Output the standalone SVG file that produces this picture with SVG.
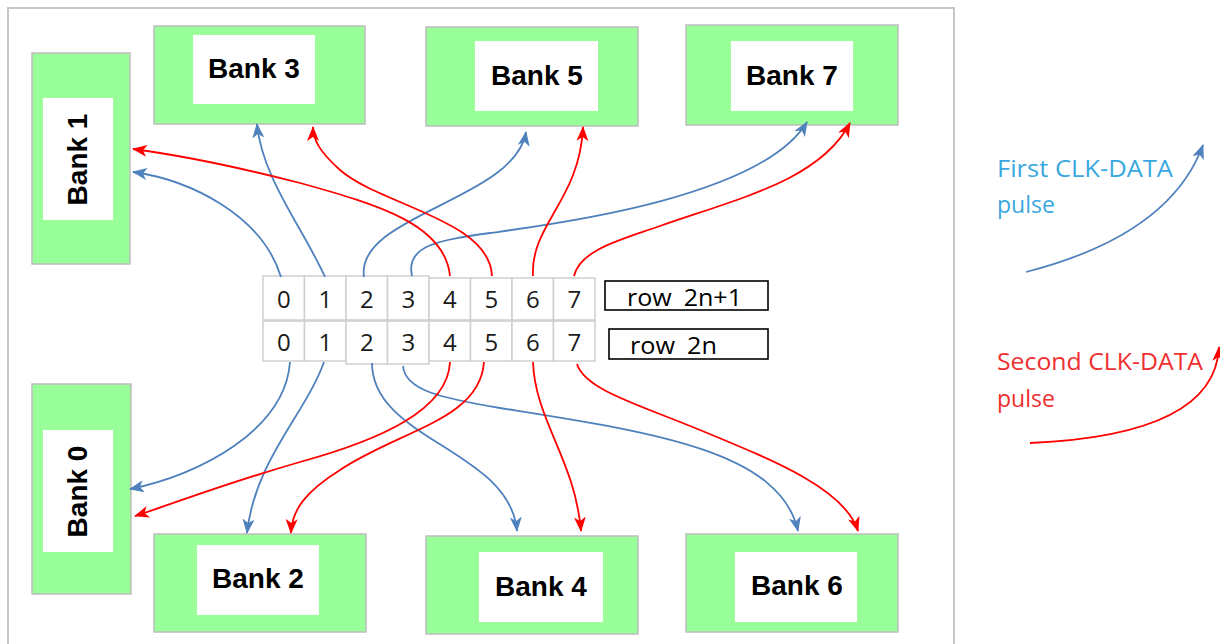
<svg xmlns="http://www.w3.org/2000/svg" width="1220" height="644" viewBox="0 0 1220 644">
<defs>
<style>
.frame{fill:#fff;stroke:#c8c8c8;stroke-width:2}
.bank{fill:#99ff99;stroke:#bdbdbd;stroke-width:1.5}
.inner{fill:#fff;stroke:none}
.blabel{font-family:"Liberation Sans",Arial,sans-serif;font-weight:bold;font-size:28px;fill:#000;text-anchor:middle}
.cell{fill:#fff;stroke:#cfcfcf;stroke-width:1.5}
.digit{font-family:"Open Sans","Noto Sans",sans-serif;font-size:24px;fill:#1a1a1a;text-anchor:middle}
.rowbox{fill:#fff;stroke:#000;stroke-width:1.6}
.rowlabel{font-family:"Open Sans","Noto Sans",sans-serif;font-size:23px;fill:#000}
.blue{fill:none;stroke:#4f81bd;stroke-width:1.8;marker-end:url(#ab)}
.red{fill:none;stroke:#ff0000;stroke-width:1.8;marker-end:url(#ar)}
.legb{font-family:"Open Sans","Noto Sans",sans-serif;font-size:23px;fill:#3aa8e0}
.legr{font-family:"Open Sans","Noto Sans",sans-serif;font-size:23px;fill:#ee3030}
</style>
<marker id="ab" markerUnits="userSpaceOnUse" markerWidth="15" markerHeight="12" viewBox="0 0 15 12" refX="14" refY="6" orient="auto">
<path d="M0,0 L15,6 L0,12 L4,6 z" fill="#4f81bd"/>
</marker>
<marker id="ar" markerUnits="userSpaceOnUse" markerWidth="15" markerHeight="12" viewBox="0 0 15 12" refX="14" refY="6" orient="auto">
<path d="M0,0 L15,6 L0,12 L4,6 z" fill="#ff0000"/>
</marker>
</defs>
<rect width="1220" height="644" fill="#fff"/>
<rect class="frame" x="8" y="8" width="946" height="660"/>

<g id="bank1">
<rect class="bank" x="32" y="53" width="98" height="211"/>
<rect class="inner" x="43" y="98" width="70" height="122"/>
<text class="blabel" transform="translate(87,159.5) rotate(-90)">Bank 1</text>
</g>
<g id="bank3">
<rect class="bank" x="154" y="26" width="211" height="98"/>
<rect class="inner" x="193" y="35" width="122" height="69"/>
<text class="blabel" x="254" y="78">Bank 3</text>
</g>
<g id="bank5">
<rect class="bank" x="426" y="27" width="212" height="99"/>
<rect class="inner" x="475" y="41" width="123" height="70"/>
<text class="blabel" x="537" y="85">Bank 5</text>
</g>
<g id="bank7">
<rect class="bank" x="686" y="25" width="212" height="100"/>
<rect class="inner" x="731" y="41" width="122" height="70"/>
<text class="blabel" x="792" y="85">Bank 7</text>
</g>
<g id="bank0">
<rect class="bank" x="32" y="384" width="99" height="210"/>
<rect class="inner" x="43" y="430" width="70" height="122"/>
<text class="blabel" transform="translate(87,491.5) rotate(-90)">Bank 0</text>
</g>
<g id="bank2">
<rect class="bank" x="154" y="534" width="212" height="98"/>
<rect class="inner" x="197" y="545" width="122" height="70"/>
<text class="blabel" x="258" y="588">Bank 2</text>
</g>
<g id="bank4">
<rect class="bank" x="426" y="536" width="212" height="98"/>
<rect class="inner" x="479" y="552" width="124" height="70"/>
<text class="blabel" x="541" y="596">Bank 4</text>
</g>
<g id="bank6">
<rect class="bank" x="686" y="534" width="212" height="98"/>
<rect class="inner" x="735" y="552" width="122" height="70"/>
<text class="blabel" x="797" y="595">Bank 6</text>
</g>

<g id="row2n1">
<rect class="cell" x="263" y="276" width="41.5" height="44"/>
<rect class="cell" x="304.5" y="276" width="41.5" height="44"/>
<rect class="cell" x="346" y="276" width="41.5" height="44"/>
<rect class="cell" x="387.5" y="276" width="41.5" height="44"/>
<rect class="cell" x="429" y="278" width="41.5" height="42"/>
<rect class="cell" x="470.5" y="278" width="41.5" height="42"/>
<rect class="cell" x="512" y="278" width="41.5" height="42"/>
<rect class="cell" x="553.5" y="278" width="41.5" height="42"/>
<text class="digit" x="283.8" y="308">0</text>
<text class="digit" x="325.3" y="308">1</text>
<text class="digit" x="366.8" y="308">2</text>
<text class="digit" x="408.3" y="308">3</text>
<text class="digit" x="449.8" y="308">4</text>
<text class="digit" x="491.3" y="308">5</text>
<text class="digit" x="532.8" y="308">6</text>
<text class="digit" x="574.3" y="308">7</text>
</g>
<g id="row2n">
<rect class="cell" x="263" y="321" width="41.5" height="40"/>
<rect class="cell" x="304.5" y="321" width="41.5" height="40"/>
<rect class="cell" x="346" y="321" width="41.5" height="43"/>
<rect class="cell" x="387.5" y="321" width="41.5" height="43"/>
<rect class="cell" x="429" y="321" width="41.5" height="40"/>
<rect class="cell" x="470.5" y="321" width="41.5" height="40"/>
<rect class="cell" x="512" y="321" width="41.5" height="40"/>
<rect class="cell" x="553.5" y="321" width="41.5" height="40"/>
<text class="digit" x="283.8" y="351">0</text>
<text class="digit" x="325.3" y="351">1</text>
<text class="digit" x="366.8" y="351">2</text>
<text class="digit" x="408.3" y="351">3</text>
<text class="digit" x="449.8" y="351">4</text>
<text class="digit" x="491.3" y="351">5</text>
<text class="digit" x="532.8" y="351">6</text>
<text class="digit" x="574.3" y="351">7</text>
</g>
<g id="label2n1">
<rect class="rowbox" x="605" y="281" width="163" height="29"/>
<text class="rowlabel" x="627" y="306" textLength="115" lengthAdjust="spacingAndGlyphs">row <tspan dx="5">2n+1</tspan></text>
</g>
<g id="label2n">
<rect class="rowbox" x="609" y="329" width="159" height="30"/>
<text class="rowlabel" x="630" y="354" textLength="87" lengthAdjust="spacingAndGlyphs">row <tspan dx="5">2n</tspan></text>
</g>

<g id="connectors">
<path class="blue" d="M281,277 C262,215 190,180 133,172"/>
<path class="blue" d="M325,277 C303,228 262,178 257,124"/>
<path class="blue" d="M364,277 C355,215 515,200 526,132"/>
<path class="blue" d="M412,276 C405,245 440,240 490,233 C540,226 760,200 807,122"/>
<path class="red" d="M450,276 C445,225 380,205 300,183 C230,165 170,154 133,149"/>
<path class="red" d="M492,276 C490,220 380,205 340,170 C320,152 313,140 313,127"/>
<path class="red" d="M533,276 C530,225 580,200 583,127"/>
<path class="red" d="M574,276 C580,250 620,240 660,226 C740,198 820,180 850,123"/>
<path class="blue" d="M290,362 C285,430 200,475 130,489"/>
<path class="blue" d="M324,362 C305,415 255,460 247,533"/>
<path class="blue" d="M372,363 C372,440 510,450 517,531"/>
<path class="blue" d="M403,366 C405,390 440,398 500,408 C650,432 780,450 798,531"/>
<path class="red" d="M450,362 C448,410 380,440 300,462 C220,485 170,505 135,516"/>
<path class="red" d="M484,362 C480,420 400,430 340,470 C305,492 292,510 291,533"/>
<path class="red" d="M533,362 C535,420 575,460 581,531"/>
<path class="red" d="M577,364 C585,390 640,405 700,430 C780,463 845,490 858,531"/>
</g>

<g id="legend">
<text class="legb" x="997" y="177" textLength="176" lengthAdjust="spacingAndGlyphs">First CLK-DATA</text>
<text class="legb" x="997" y="213">pulse</text>
<path class="blue" d="M1026,272 Q1170,235 1203,145"/>
<text class="legr" x="997" y="370" textLength="206" lengthAdjust="spacingAndGlyphs">Second CLK-DATA</text>
<text class="legr" x="997" y="407">pulse</text>
<path class="red" d="M1030,443 Q1215,435 1219,347"/>
</g>
</svg>
